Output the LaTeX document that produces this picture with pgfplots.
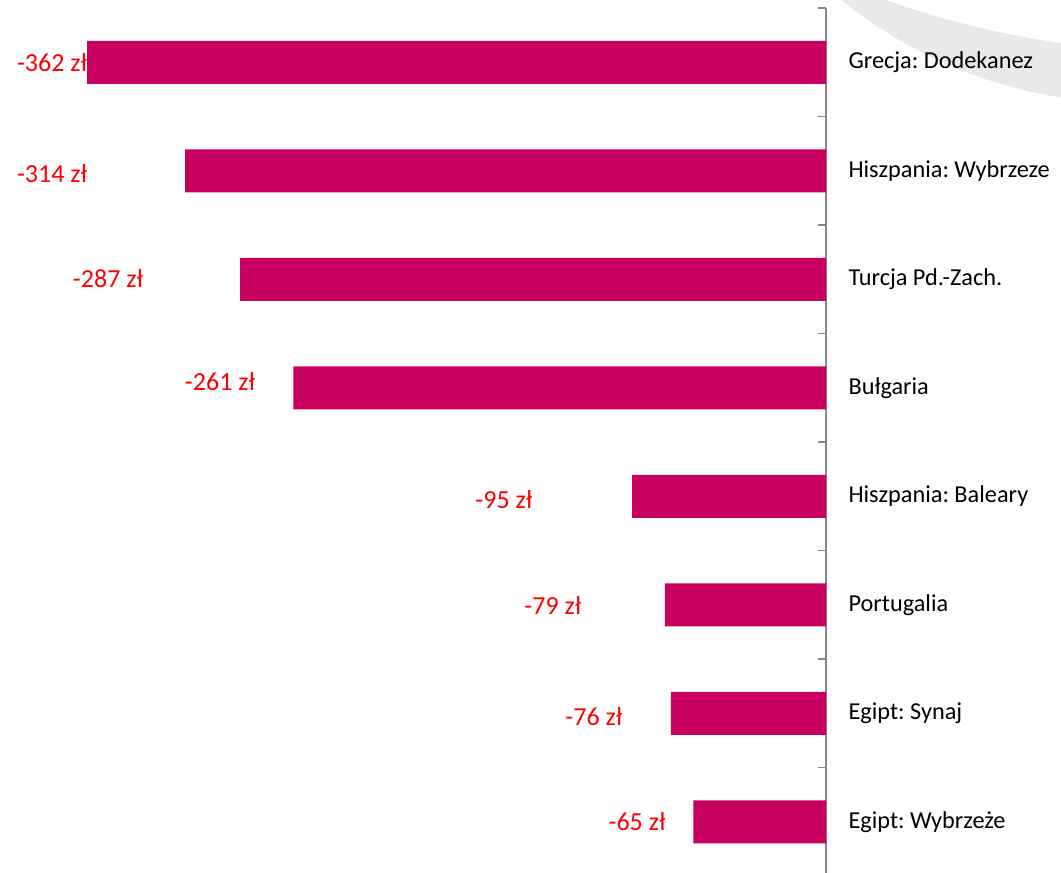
\documentclass[border=0pt]{standalone}
\usepackage{fontspec}
\setmainfont{Carlito}
\usepackage{pgfplots}
\pgfplotsset{compat=1.18}
\definecolor{barmag}{RGB}{200,0,95}
\definecolor{ringgrey}{RGB}{233,233,233}
\definecolor{axisgrey}{RGB}{134,134,134}
\definecolor{labred}{RGB}{255,0,0}
\frenchspacing
\begin{document}
\begin{tikzpicture}
\useasboundingbox (0,0) rectangle (1061pt,873pt);
% decorative ring in the top right corner
\fill[ringgrey] (1133pt,1234pt) circle (464pt);
\fill[white] (1194pt,1743pt) circle (922.6pt);
\begin{axis}[
    at={(0pt,-3pt)}, anchor=south west,
    scale only axis,
    width=826pt, height=868pt,
    xmin=-404.7, xmax=0,
    ymin=-0.5, ymax=7.5,
    y dir=reverse,
    axis x line=none,
    axis y line=right,
    y axis line style={-, draw=axisgrey, line width=1.5pt},
    ytick={0,...,7},
    yticklabels={Grecja: Dodekanez, Hiszpania: Wybrzeze, Turcja Pd.-Zach., Bułgaria, Hiszpania: Baleary, Portugalia, Egipt: Synaj, Egipt: Wybrzeże},
    major tick length=0pt,
    minor ytick={-0.5,0.5,...,7.5},
    minor tick length=8pt,
    tick align=inside,
    minor tick style={draw=axisgrey, line width=1.5pt},
    yticklabel style={font=\fontsize{24.3}{28}\selectfont, anchor=west, xshift=19pt},
    clip=false,
]
    % value labels (drawn first, bars lie over them)
    \addplot[draw=none, mark=none, nodes near coords, point meta=explicit symbolic,
        every node near coord/.append style={anchor=center, text=labred, font=\fontsize{26}{30}\selectfont}]
        coordinates {
            (-379.2,0) [-362 zł]
            (-379.2,1.03) [-314 zł]
            (-351.8,1.99) [-287 zł]
            (-296.9,2.94) [-261 zł]
            (-157.8,4.03) [-95 zł]
            (-133.8,5.01) [-79 zł]
            (-113.7,6.03) [-76 zł]
            (-92.6,7.0) [-65 zł]
        };
    \addplot[xbar, bar width=43pt, fill=barmag, draw=none]
        coordinates {
            (-362,0) (-314,1) (-287,2) (-261,3)
            (-95,4) (-79,5) (-76,6) (-65,7)
        };
\end{axis}
\end{tikzpicture}
\end{document}
